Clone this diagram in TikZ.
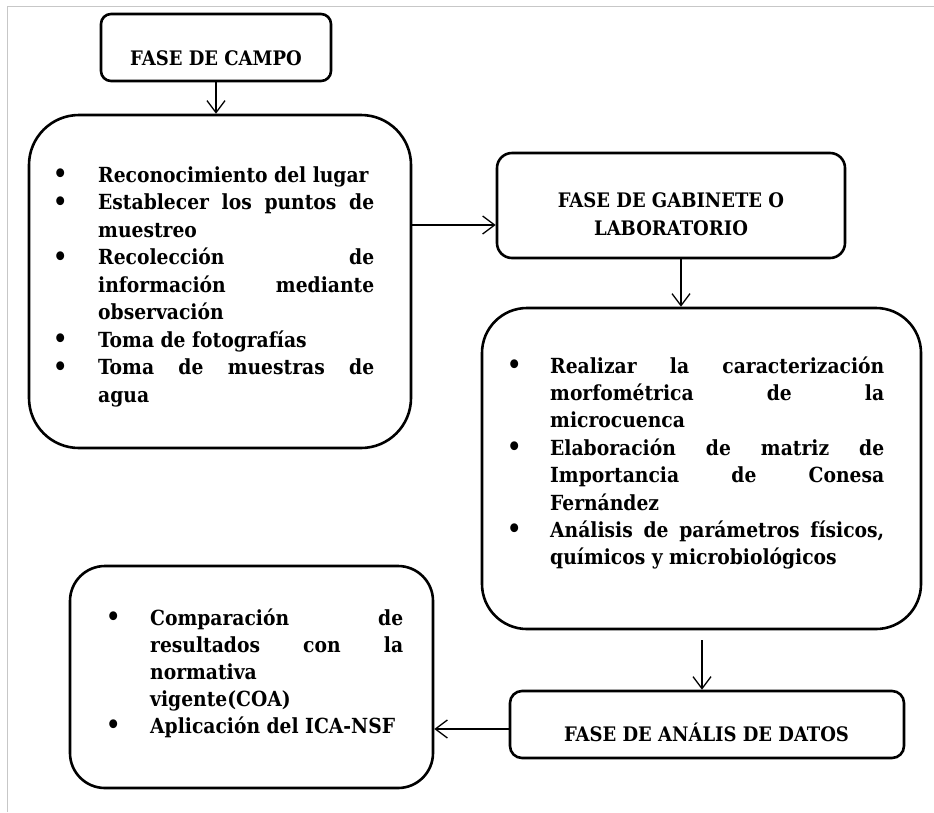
\documentclass[tikz,border=0pt]{standalone}
\usepackage{fontspec}
\setmainfont{DejaVu Serif Condensed}
\usetikzlibrary{arrows.meta}

% column width and bullet offset of the current list
\newlength\colw
\newlength\bulgap
% justified line, left-aligned (last) line, bullet hung to the left
\newcommand\jline[1]{\hbox to\colw{#1}}
\newcommand\lline[1]{\hbox to\colw{#1\hfil}}
\newcommand\bul{\llap{\makebox[0pt]{\raisebox{-0.5pt}{\fontsize{25}{25}\selectfont\textbullet}}\hskip\bulgap}}

\tikzset{
  phase/.style={draw, rectangle, line width=2.6pt, inner sep=0pt},
  arr/.style={-{Straight Barb[length=12pt,width=18pt]}, line width=1.3pt},
  head/.style={inner sep=0pt, font=\bfseries\fontsize{20}{28}\selectfont},
  txt/.style={inner sep=0pt, font=\bfseries\fontsize{20.8}{27.4}\selectfont},
  frame/.style={draw=black!22, line width=1pt}
}

\begin{document}
\begin{tikzpicture}[x=1pt,y=-1pt]
\useasboundingbox (0,0) rectangle (934,812);
\fill[white] (0,0) rectangle (934,812);
\draw[frame] (7,812) -- (7,6) -- (934,6);

% boxes
\node[phase, rounded corners=10pt, minimum width=230pt, minimum height=67pt] (b1) at (216,47.5) {};
\node[phase, rounded corners=50pt, minimum width=382pt, minimum height=333pt] (b2) at (220,281.5) {};
\node[phase, rounded corners=15pt, minimum width=348pt, minimum height=105pt] (b3) at (671,205.5) {};
\node[phase, rounded corners=45pt, minimum width=439pt, minimum height=321pt] (b4) at (701.5,468.5) {};
\node[phase, rounded corners=12pt, minimum width=394pt, minimum height=67pt] (b5) at (707,724.5) {};
\node[phase, rounded corners=35pt, minimum width=363pt, minimum height=222pt] (b6) at (251.5,677) {};

% headings
\node[head, anchor=base] (h1) at (216,65) {FASE DE CAMPO};
\node[head, anchor=base] (h3) at (671,207) {\vtop{\baselineskip=28pt
  \hbox to 0pt{\hss FASE DE GABINETE O\hss}
  \hbox to 0pt{\hss LABORATORIO\hss}}};
\node[head, anchor=base] (h5) at (706.5,741) {FASE DE ANÁLIS DE DATOS};

% lists
\node[txt, anchor=base west] (t2) at (98,182) {\setlength\colw{276pt}\setlength\bulgap{38pt}%
  \vtop{\baselineskip=27.5pt
  \lline{\bul Reconocimiento del lugar}
  \jline{\bul Establecer los puntos de}
  \lline{muestreo}
  \jline{\bul Recolección de}
  \jline{información mediante}
  \lline{observación}
  \lline{\bul Toma de fotografías}
  \jline{\bul Toma de muestras de}
  \lline{agua}}};

\node[txt, anchor=base west] (t4) at (550,373) {\setlength\colw{334pt}\setlength\bulgap{36pt}%
  \vtop{\baselineskip=27.4pt
  \jline{\bul Realizar la caracterización}
  \jline{morfométrica de la}
  \lline{microcuenca}
  \jline{\bul Elaboración de matriz de}
  \jline{Importancia de Conesa}
  \lline{Fernández}
  \jline{\bul Análisis de parámetros físicos,}
  \lline{químicos y microbiológicos}}};

\node[txt, anchor=base west] (t6) at (150,625) {\setlength\colw{253pt}\setlength\bulgap{37pt}%
  \vtop{\baselineskip=27pt
  \jline{\bul Comparación de}
  \jline{resultados con la}
  \lline{normativa}
  \lline{vigente(COA)}
  \lline{\bul Aplicación del ICA-NSF}}};

% connectors
\coordinate (ya) at (0,225);
\coordinate (xb) at (681,0);
\coordinate (xc) at (702,0);
\coordinate (yd) at (0,729);
\draw[arr] (b1.south) -- (b1.south |- b2.north);
\draw[arr] (b2.east |- ya) -- (b3.west |- ya);
\draw[arr] (b3.south -| xb) -- (b4.north -| xb);
\draw[arr, shorten <=10pt] (b4.south -| xc) -- (b5.north -| xc);
\draw[arr] (b5.west |- yd) -- (b6.east |- yd);
\end{tikzpicture}
\end{document}
